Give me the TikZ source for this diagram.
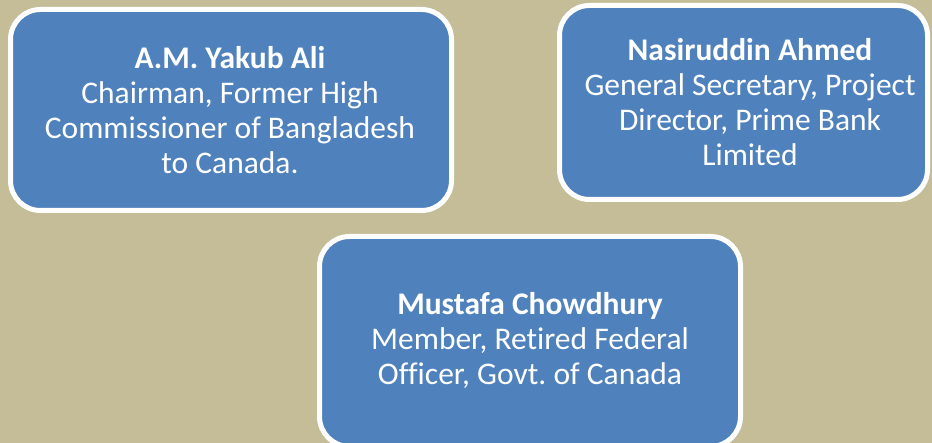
\documentclass[tikz,border=0pt]{standalone}
\usepackage{fontspec}
\setmainfont[Ligatures=NoCommon]{Carlito}
\frenchspacing
\definecolor{bgtan}{HTML}{C4BD97}
\definecolor{boxblue}{HTML}{4F81BD}
\begin{document}
\begin{tikzpicture}[x=1pt,y=-1pt,
  card/.style={draw=white,line width=5pt,fill=boxblue,rounded corners=30pt,inner sep=0pt},
  cardtext/.style={text=white,align=center,font=\fontsize{31.5}{35}\selectfont,inner sep=0pt}]
\fill[bgtan] (0,0) rectangle (932,443);
\useasboundingbox (0,0) rectangle (932,443);
\begin{scope}
\clip (0,0) rectangle (932,443);
\node[card,minimum width=441pt,minimum height=201pt] (b1) at (231,110) {};
\node[card,minimum width=368pt,minimum height=194pt] (b2) at (743.5,102.5) {};
\node[card,minimum width=421pt,minimum height=210pt] (b3) at (530,341.5) {};
\end{scope}
\node[cardtext] (t1) at (230,110.5) {\textbf{A.M. Yakub Ali}\\Chairman, Former High\\Commissioner of Bangladesh\\to Canada.};
\node[cardtext] (t2) at (750,102.5) {\textbf{Nasiruddin Ahmed}\\General Secretary, Project\\Director, Prime Bank\\Limited};
\node[cardtext] (t3) at (530,340) {\textbf{Mustafa Chowdhury}\\Member, Retired Federal\\Officer, Govt. of Canada};
\end{tikzpicture}
\end{document}
